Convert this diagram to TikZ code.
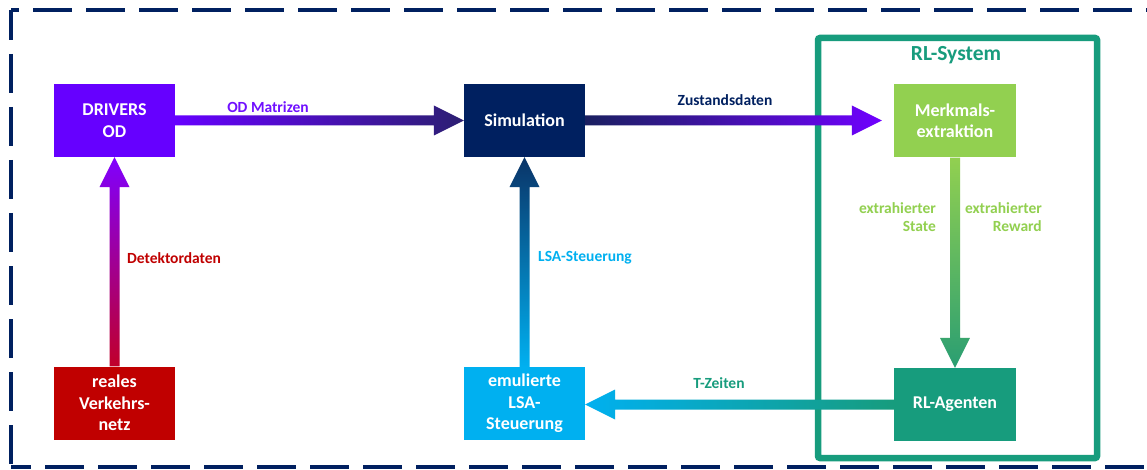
\documentclass[tikz,border=0pt]{standalone}
\usepackage{fontspec}
\setmainfont{Carlito}
\usetikzlibrary{calc}
\definecolor{navy}{HTML}{002060}
\definecolor{vio}{HTML}{6600FF}
\definecolor{lgreen}{HTML}{92D050}
\definecolor{teal2}{HTML}{179C7D}
\definecolor{dred}{HTML}{C00000}
\definecolor{cyan2}{HTML}{00B0F0}
\definecolor{odlbl}{HTML}{7010FF}
\definecolor{odend}{HTML}{2C1F72}
\definecolor{zustart}{HTML}{1A2060}
\definecolor{zuend}{HTML}{7000FF}
\definecolor{detstart}{HTML}{C0002A}
\definecolor{detend}{HTML}{8000FF}
\definecolor{lsaend}{HTML}{0A3468}
\definecolor{merkend}{HTML}{2A9E72}
% arrows: #1 start anchor, #2 tip anchor, #3 colour at start side, #4 colour at tip side
\newcommand\arrR[4]{\shade[left color=#3,right color=#4] let \p1=(#1), \p2=(#2) in
  (\x1,\y1+5pt) -- (\x2-30pt,\y1+5pt) -- (\x2-30pt,\y1+15pt) -- (\x2,\y1) -- (\x2-30pt,\y1-15pt) -- (\x2-30pt,\y1-5pt) -- (\x1,\y1-5pt) -- cycle;}
\newcommand\arrL[4]{\shade[right color=#3,left color=#4] let \p1=(#1), \p2=(#2) in
  (\x1,\y1+5pt) -- (\x2+30pt,\y1+5pt) -- (\x2+30pt,\y1+15pt) -- (\x2,\y1) -- (\x2+30pt,\y1-15pt) -- (\x2+30pt,\y1-5pt) -- (\x1,\y1-5pt) -- cycle;}
\newcommand\arrU[4]{\shade[bottom color=#3,top color=#4] let \p1=(#1), \p2=(#2) in
  (\x1-5pt,\y1) -- (\x1-5pt,\y2-30pt) -- (\x1-15pt,\y2-30pt) -- (\x1,\y2) -- (\x1+15pt,\y2-30pt) -- (\x1+5pt,\y2-30pt) -- (\x1+5pt,\y1) -- cycle;}
\newcommand\arrD[4]{\shade[top color=#3,bottom color=#4] let \p1=(#1), \p2=(#2) in
  (\x1-5pt,\y1) -- (\x1-5pt,\y2+30pt) -- (\x1-15pt,\y2+30pt) -- (\x1,\y2) -- (\x1+15pt,\y2+30pt) -- (\x1+5pt,\y2+30pt) -- (\x1+5pt,\y1) -- cycle;}
\begin{document}
\begin{tikzpicture}[x=1pt,y=-1pt,
  box/.style={minimum width=121pt, minimum height=73pt, inner sep=0pt, align=center,
    text=white, font=\fontsize{18}{21.5}\selectfont\bfseries},
  lbl/.style={inner sep=0pt, font=\fontsize{15.5}{18}\selectfont\bfseries},
  frame/.style={draw=navy, line width=4pt, dash pattern=on 39pt off 14pt}]
\useasboundingbox (0,0) rectangle (1147,470);
\fill[white] (0,0) rectangle (1147,470);
\clip (0,0) rectangle (1147,470);
% outer dashed frame
\draw[frame, dash phase=31pt] (11,10) -- (1200,10);
\draw[frame, dash phase=9pt] (11,10) -- (11,467);
\draw[frame, dash phase=19pt] (11,467) -- (1200,467);
% RL-System frame
\draw[teal2, line width=6.5pt, rounded corners=2pt] (818,38) rectangle (1097,458);
\node[font=\fontsize{21.5}{24}\selectfont\bfseries, text=teal2] (rls) at (956,55) {RL-System};
% boxes
\node[box, fill=vio] (drv) at (114.5,120.5) {DRIVERS\\OD};
\node[box, fill=navy] (sim) at (524.5,120.5) {Simulation};
\node[box, fill=lgreen, minimum width=122pt] (merk) at (955,121) {Merkmals-\\extraktion};
\node[box, fill=dred] (real) at (114.5,403) {reales\\Verkehrs-\\netz};
\node[box, fill=cyan2] (emu) at (524.5,403.5) {emulierte\\LSA-\\Steuerung};
\node[box, fill=teal2, minimum width=122pt] (rla) at (955,404.5) {RL-Agenten};
\coordinate (merkin) at ($(merk.west)+(-12,0)$);
% arrows
\arrR{drv.east}{sim.west}{vio}{odend}
\arrR{sim.east}{merkin}{zustart}{zuend}
\arrU{real.north}{drv.south}{detstart}{detend}
\arrU{emu.north}{sim.south}{cyan2}{lsaend}
\arrD{merk.south}{rla.north}{lgreen}{merkend}
\arrL{rla.west}{emu.east}{teal2}{cyan2}
% labels
\node[lbl, text=odlbl] (lod) at (268,107) {OD Matrizen};
\node[lbl, text=navy] (lzu) at (725,100) {Zustandsdaten};
\node[lbl, text=dred, anchor=west] (ldet) at (127,258) {Detektordaten};
\node[lbl, text=cyan2, anchor=west] (llsa) at (538,258) {LSA-Steuerung};
\node[lbl, text=teal2] (ltz) at (719,383) {T-Zeiten};
\node[lbl, text=lgreen, anchor=east, align=right] (lst) at (936,217) {extrahierter\\State};
\node[lbl, text=lgreen, anchor=east, align=right] (lrw) at (1042,217) {extrahierter\\Reward};
\end{tikzpicture}
\end{document}
